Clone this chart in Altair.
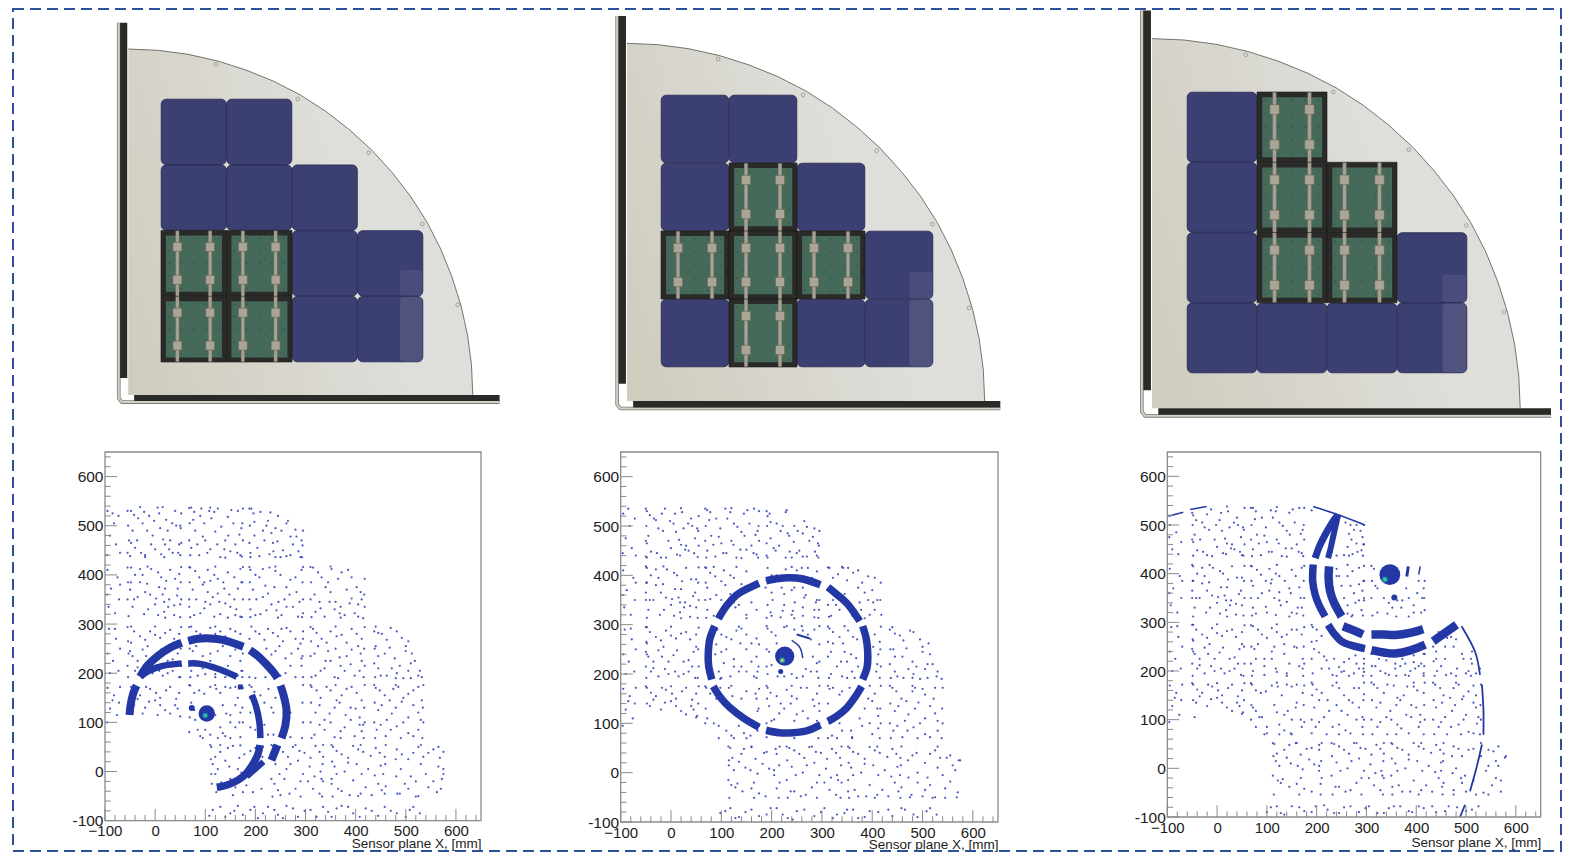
import altair as alt
import pandas as pd

W, H = 1554, 844
OX, OY = 8, 8

# ---------- top row: detector plate layouts (grid units, one tile = 1) ----------
tile_x_px = [(161, 423), (661, 933), (1187, 1467)]
tile_y_px = [(362, 99), (367, 95), (373, 92)]
bar_end = [5.17, 4.99, 5.2]

arc_u = [-0.5, -0.04, 0.41, 0.86, 1.30, 1.72, 2.13, 2.52, 2.88, 3.22, 3.53, 3.81, 4.06, 4.27, 4.44, 4.58, 4.68, 4.74, 4.76]
arc_v = [4.76, 4.74, 4.68, 4.58, 4.44, 4.27, 4.06, 3.81, 3.53, 3.22, 2.88, 2.52, 2.13, 1.72, 1.30, 0.86, 0.41, -0.04, -0.5]
hole_u = [0.84, 2.09, 3.17, 3.99, 4.53]
hole_v = [4.53, 4.00, 3.18, 2.10, 0.87]

blue_cells = [
    [(0, 3), (1, 3), (0, 2), (1, 2), (2, 2), (2, 1), (3, 1), (2, 0), (3, 0)],
    [(0, 3), (1, 3), (0, 2), (2, 2), (3, 1), (0, 0), (2, 0), (3, 0)],
    [(0, 3), (0, 2), (0, 1), (3, 1), (0, 0), (1, 0), (2, 0), (3, 0)],
]
green_cells = [
    [(0, 1), (1, 1), (0, 0), (1, 0)],
    [(1, 2), (0, 1), (1, 1), (2, 1), (1, 0)],
    [(1, 3), (1, 2), (2, 2), (1, 1), (2, 1)],
]
rail_frac = [0.25, 0.75]
pin_frac = [0.12, 0.31, 0.5, 0.69, 0.88]

# ---------- bottom row: sensor plane hit maps (mm) ----------
plot_x_px = [(105, 481), (620.7, 998), (1167.3, 1540.7)]
plot_y_px = [(820.7, 452), (822, 452), (817, 452)]
title_drop = [16, 15, 18]
x_major = [-100, 0, 100, 200, 300, 400, 500, 600]
y_major = [-100, 0, 100, 200, 300, 400, 500, 600]
minor = [-80, -60, -40, -20, 20, 40, 60, 80, 120, 140, 160, 180, 220, 240, 260, 280, 320, 340, 360, 380,
         420, 440, 460, 480, 520, 540, 560, 580, 620, 640]

p1_dots = [
 -95,530,-82,505,-73,520,-90,480,-78,462,-70,445,-96,440,-85,525,
 -95,410,-75,395,-88,372,-72,350,-93,335,-80,322,-70,380,-96,360,
 -92,290,-78,270,-70,250,-95,240,-84,225,-73,205,-90,200,-80,290,
 -95,170,-82,155,-72,140,-90,128,-76,115,-96,100,-85,145,-70,172,
 -48,530,-30,538,-12,520,5,537,22,512,40,530,50,500,-45,490,-25,505,-5,480,10,495,30,470,48,462,-40,455,-20,440,0,452,18,436,35,445,-50,438,25,490,
 72,537,90,520,108,530,125,535,145,518,165,530,172,495,80,490,98,505,120,488,140,470,160,462,72,455,88,440,110,452,130,436,150,448,170,440,100,470,
 192,535,210,528,225,510,245,520,262,505,280,492,292,470,198,480,215,490,235,465,255,450,275,462,190,445,208,438,228,442,250,436,270,440,290,436,240,495,
 -48,415,-25,400,-8,412,12,395,30,410,48,402,-50,370,-30,385,-10,360,8,375,28,350,45,372,-45,335,-22,320,0,340,18,325,38,318,50,340,-35,355,15,360,
 70,415,88,395,105,410,125,392,145,405,170,412,75,370,95,380,115,355,138,372,158,350,172,385,68,335,90,322,110,340,130,320,150,335,170,315,100,345,128,345,
 190,410,208,395,228,415,250,400,270,390,292,410,195,370,215,355,238,375,258,350,282,365,190,330,210,320,232,340,252,318,275,335,295,322,
 315,415,332,395,352,412,372,405,392,395,410,365,318,360,340,375,360,345,382,370,405,340,320,325,338,315,358,330,378,318,398,322,412,350,
 -48,295,-30,275,-10,285,10,272,30,288,48,280,-50,245,-35,225,-15,255,5,238,-40,205,-25,195,-5,200,15,195,35,205,48,192,25,225,45,240,
 72,295,90,280,110,292,130,285,150,290,170,280,75,245,95,235,125,245,150,235,170,225,72,205,100,198,128,205,165,195,85,195,
 192,295,208,280,225,290,245,275,262,292,280,270,295,285,240,245,260,230,285,250,260,200,280,192,292,215,255,265,
 315,290,332,270,350,285,372,278,392,290,412,270,318,240,340,225,360,250,382,235,405,255,320,195,338,210,358,192,378,205,398,195,412,225,
 440,295,452,280,470,292,492,272,505,265,440,255,458,240,478,230,500,245,518,225,445,210,462,195,482,200,505,205,525,195,532,192,
 192,172,210,155,226,168,240,150,190,120,205,100,232,130,225,75,
 -48,172,-30,155,-10,168,10,150,30,172,48,160,-42,135,-20,130,0,145,20,125,40,135,50,112,-25,118,5,115,
 70,175,88,165,110,172,130,160,150,170,165,150,72,140,135,135,150,115,170,120,80,105,130,90,160,90,110,75,90,72,140,72,170,70,
 312,172,330,150,350,165,372,155,392,172,412,145,320,120,338,105,358,130,380,115,400,128,415,95,318,75,338,85,358,70,378,90,398,72,412,82,
 440,170,458,155,475,168,495,150,515,165,532,145,445,125,462,105,480,130,505,110,525,120,442,85,460,72,482,92,505,78,525,85,
 112,50,130,40,155,52,178,35,200,48,115,15,140,22,165,5,120,-5,150,-15,182,-28,212,-35,122,-42,155,-48,195,-42,
 235,52,255,40,275,50,298,38,320,52,335,30,240,15,262,5,285,22,308,10,330,0,238,-25,258,-15,280,-35,305,-20,328,-45,250,-48,
 355,50,372,35,395,52,415,40,440,48,458,30,358,10,378,0,402,15,425,5,450,12,352,-25,372,-40,395,-18,420,-32,445,-25,
 482,45,505,25,525,50,545,38,565,50,575,5,490,5,510,-10,530,15,555,-20,488,-45,505,-35,525,-50,545,-32,562,-42,
 108,-90,130,-72,150,-85,165,-70,190,-78,205,-95,225,-72,245,-88,262,-70,285,-92,310,-78,335,-72,352,-92,372,-70,395,-85,420,-75,445,-90,470,-80,500,-92,515,-72,528,-85,
 -55,530,-54,500,-52,470,-55,445,52,525,51,495,52,465,50,440,-20,436,15,538,
 68,536,69,505,68,470,70,440,175,535,174,505,175,470,173,437,110,537,140,435,
 188,535,189,500,188,465,190,436,295,490,294,460,293,436,240,436,230,527,265,510,
 -55,415,-54,385,-55,350,-53,316,52,416,51,385,52,350,50,314,-15,417,20,313,
 68,416,69,385,68,350,70,314,175,416,174,385,175,350,173,314,120,417,145,313,
 188,416,189,385,188,350,190,314,295,416,294,385,295,350,293,314,240,417,245,313,
 310,416,311,385,310,350,312,314,418,392,417,360,418,335,415,312,350,417,370,313,
 -55,294,-54,265,-53,240,-55,215,-54,192,52,294,51,250,52,215,50,192,0,295,
 68,294,69,250,68,215,70,192,175,240,174,205,174,192,120,295,140,192,120,192,
 188,270,188,192,295,270,294,235,295,192,200,190,220,192,
 310,294,311,265,310,235,312,192,418,294,417,250,418,215,416,192,360,295,365,190,
 437,285,438,250,437,220,439,192,480,190,510,190,528,205,512,240,
 68,176,69,110,68,80,175,170,174,130,175,100,120,176,95,68,150,68,125,68,
 188,176,189,150,190,90,295,176,294,140,295,100,293,68,270,120,270,70,
 310,176,311,140,310,100,312,68,418,176,417,130,418,100,416,68,360,176,370,68,
 437,176,438,140,437,100,439,68,535,176,534,130,535,100,533,68,480,176,490,68,
 110,54,111,25,112,-5,113,-25,215,50,214,30,130,54,170,53,
 232,54,233,25,232,-15,234,-51,335,54,334,15,335,-20,333,-51,280,54,290,-51,
 352,54,353,20,352,-15,354,-51,460,54,459,15,460,-30,458,-45,410,54,405,-50,
 480,25,481,-10,483,-45,575,40,575,-5,570,-35,520,-51,530,54,
 -42,522,-36,470,-22,528,-8,462,-2,510,16,472,28,452,42,500,-48,465,-16,490,8,525,34,505,46,445,-28,445,12,442,-34,515,20,462,
 78,528,95,478,112,515,132,498,152,532,168,482,84,462,104,445,124,462,146,480,164,445,76,512,118,528,138,452,92,535,156,505,
 198,508,218,470,236,448,252,490,270,478,286,448,204,455,222,500,244,468,262,438,282,478,196,525,232,485,
 -40,400,-16,382,6,405,22,388,40,392,-48,385,-20,365,2,352,20,372,38,338,-42,350,-14,330,6,318,26,335,44,358,-30,412,18,345,
 80,408,98,385,118,400,136,385,158,395,165,372,82,350,105,365,125,362,148,360,162,330,78,318,98,332,118,315,140,342,160,318,110,388,
 200,400,220,378,240,408,262,375,280,395,202,350,225,362,246,345,268,360,288,345,200,318,222,328,242,328,262,335,285,315,215,412,
 325,405,345,385,365,392,385,410,402,375,328,345,350,365,370,335,392,352,330,332,348,345,368,322,388,342,405,315,
 -42,285,-20,268,0,278,20,282,38,270,-45,235,-25,248,-5,225,12,248,35,228,50,255,-35,212,-12,210,8,205,25,200,42,215,-48,262,-18,235,
 82,285,100,268,120,280,140,275,160,285,82,255,110,240,135,255,160,248,78,225,110,225,145,215,95,210,120,198,172,205,
 200,285,218,268,235,282,252,290,270,285,290,260,248,255,272,240,292,230,270,215,250,195,232,238,222,250,
 322,282,342,262,362,275,382,262,402,280,325,255,345,245,368,232,392,248,410,240,330,205,350,225,370,215,390,218,408,205,
 445,282,462,268,482,285,500,255,445,235,468,252,488,215,510,220,450,195,472,210,495,190,
 198,162,218,140,236,120,200,85,218,95,236,75,
 -40,162,-18,172,2,160,22,165,42,148,-35,148,-12,142,10,135,30,118,45,128,
 78,160,98,158,122,168,140,172,160,172,78,125,142,118,160,135,168,100,85,85,120,115,150,100,135,78,100,85,
 322,165,342,172,362,145,382,168,402,160,328,135,348,118,368,140,390,130,408,110,328,95,350,100,370,82,390,105,408,95,
 448,165,468,145,485,172,505,158,525,172,452,135,472,118,492,142,515,135,530,105,450,95,470,85,495,100,515,72,
 120,30,145,48,168,28,190,42,210,38,125,5,148,10,172,-2,195,8,132,-22,160,-32,175,-42,128,-30,205,5,
 245,45,265,30,288,42,310,28,328,40,248,-5,270,15,295,-5,318,-10,245,-38,268,-45,290,-20,315,-35,332,-15,
 362,42,385,28,405,45,430,32,448,38,362,-5,385,18,412,-5,438,-8,455,-5,365,-35,388,-48,410,-45,432,-48,452,-38,
 492,35,515,38,535,30,555,45,568,28,498,-25,520,-20,540,-5,565,10,572,-15,
 115,-78,140,-92,158,-80,175,-88,198,-72,215,-85,238,-78,255,-95,275,-75,298,-80,322,-92,345,-82,362,-75,385,-72,408,-92,432,-80,458,-72,482,-85,508,-78,
]
p2_dots = [
 -95,525,-82,500,-72,515,-90,475,-78,455,-70,440,-96,445,-85,535,
 -95,410,-75,395,-88,370,-72,350,-93,335,-80,320,-70,385,-96,360,
 -92,290,-78,270,-70,250,-95,240,-84,225,-73,205,-90,200,-80,292,
 -95,170,-82,155,-72,140,-90,128,-76,110,-96,95,-85,145,-70,172,
 -48,530,-30,512,-12,535,5,505,22,528,40,515,52,495,-45,480,-25,495,-5,470,10,488,30,460,48,475,-40,448,-20,436,0,455,18,440,35,450,-50,438,25,495,
 72,532,90,515,108,535,125,505,145,525,165,535,172,490,80,480,98,495,120,470,140,488,160,460,72,450,88,438,110,445,130,436,150,452,170,442,100,465,
 192,520,210,505,228,528,245,500,262,485,285,495,292,465,198,475,215,460,235,480,255,450,275,470,190,440,208,450,228,436,250,445,270,438,290,440,
 -48,415,-25,395,-8,412,12,400,30,415,50,392,-50,365,-30,380,-10,355,8,372,28,345,48,365,-45,330,-22,320,0,340,18,325,38,316,50,335,-35,350,15,355,
 70,415,88,398,105,410,125,395,150,408,72,375,90,360,108,380,125,345,72,330,100,320,128,335,150,320,170,330,115,350,145,365,
 192,415,210,400,228,412,250,410,272,415,290,408,200,365,225,340,245,375,265,355,285,330,198,325,218,315,240,320,262,318,290,350,
 315,415,332,402,352,415,372,410,392,398,350,390,400,370,410,350,322,350,335,330,375,345,395,320,318,318,405,330,
 -48,295,-30,275,-10,288,10,272,30,285,50,280,-50,245,-35,225,-15,255,5,238,25,225,45,245,-40,205,-25,195,-5,200,15,195,35,205,48,192,
 92,290,110,275,130,288,150,280,170,272,100,245,125,230,150,250,170,235,95,205,118,195,140,215,165,195,
 192,292,208,278,285,290,272,280,195,245,282,235,192,200,212,195,240,200,262,195,290,205,210,262,
 315,292,335,275,352,288,370,270,318,245,338,225,358,240,372,215,318,200,340,195,365,192,405,280,412,240,408,205,
 440,295,455,278,475,288,495,270,512,262,442,250,460,235,480,225,500,245,520,220,445,205,462,192,482,200,505,210,528,195,538,190,
 192,172,210,155,230,168,250,150,270,172,290,160,195,135,215,120,238,140,262,125,285,135,
 -48,172,-30,155,-10,168,10,150,30,172,50,160,-42,135,-20,128,0,145,20,125,40,135,50,112,
 70,172,90,150,115,172,140,150,168,160,72,110,95,95,120,75,145,80,170,150,
 315,170,335,158,355,172,405,160,385,130,410,130,320,75,340,85,360,72,380,95,400,78,
 440,172,458,150,480,165,500,170,522,150,445,125,465,105,485,130,505,110,525,120,442,85,460,72,482,92,505,78,530,85,
 118,50,140,38,160,52,185,40,208,48,115,15,135,22,158,5,182,18,205,-5,120,-25,142,-38,165,-20,188,-48,210,-32,
 235,50,255,38,275,52,298,40,320,48,336,30,240,12,262,0,285,20,308,8,330,-5,238,-38,258,-48,280,-30,305,-20,328,-45,
 355,50,372,38,395,52,415,40,440,48,456,30,358,10,378,0,402,15,425,5,450,12,352,-38,372,-48,395,-25,420,-35,445,-20,
 480,35,505,20,525,45,548,30,572,25,490,0,510,-10,530,10,555,-18,478,-45,505,-35,525,-50,545,-32,568,-50,
 98,-82,118,-72,135,-90,160,-75,190,-85,210,-72,232,-92,250,-78,285,-88,305,-72,330,-85,350,-75,372,-92,395,-78,440,-88,465,-75,490,-90,515,-72,528,-85,
 -50,535,-49,500,-50,470,-48,436,55,520,54,490,55,460,53,437,-10,436,20,536,
 68,535,69,500,68,470,70,436,175,530,174,500,175,470,173,436,120,536,140,435,
 190,530,191,500,190,465,192,436,295,490,294,460,293,436,240,436,230,532,265,510,
 -50,418,-49,385,-50,350,-48,314,55,416,54,385,55,350,53,314,-15,418,20,313,
 68,416,69,385,68,350,70,314,130,417,150,313,100,313,85,417,
 190,390,188,375,192,340,190,314,295,350,294,330,293,314,240,417,245,313,260,415,
 312,416,312,370,312,340,314,316,417,385,416,350,418,320,340,417,385,313,365,313,
 -50,295,-49,265,-48,240,-50,215,-49,192,55,294,54,250,55,215,53,192,0,296,
 90,260,100,192,135,296,170,192,175,260,174,215,88,240,135,205,
 190,297,190,250,190,215,295,297,295,260,295,225,293,192,230,297,260,297,
 312,296,312,265,312,235,314,192,417,296,416,250,417,215,415,192,345,297,350,192,
 435,290,436,250,435,220,437,192,480,192,510,192,530,205,515,240,
 -50,175,-48,140,55,175,54,140,52,115,0,175,
 68,175,69,130,68,100,175,170,174,130,175,95,120,176,95,70,150,70,125,70,
 190,176,191,150,190,100,190,72,295,176,294,140,295,100,293,70,240,176,245,70,
 312,176,312,140,315,100,312,70,417,176,416,130,417,100,415,70,360,70,395,176,
 435,176,436,140,435,100,437,70,540,172,539,130,540,100,538,70,480,176,490,70,
 114,53,115,25,114,-15,116,-51,216,53,215,15,216,-20,214,-51,160,53,165,-51,
 230,53,231,25,230,-15,232,-51,339,53,338,15,339,-20,337,-51,280,53,290,-51,
 352,53,353,20,352,-15,354,-51,458,53,457,15,458,-30,456,-51,410,53,405,-51,
 471,25,472,-10,475,-50,575,25,560,15,545,-51,520,-51,530,53,
 -42,522,-18,525,-2,510,16,472,28,452,42,500,-48,465,-16,490,8,525,34,505,46,445,-28,445,12,442,-34,515,20,462,
 78,528,95,478,112,515,132,498,152,532,168,482,84,462,104,445,124,462,146,480,164,445,76,512,118,528,138,452,156,505,
 198,508,218,490,236,448,252,490,270,498,286,448,204,455,222,500,244,468,262,438,282,478,196,525,232,485,
 -40,400,-16,382,6,405,22,388,40,392,-48,385,-20,365,2,352,20,372,38,338,-42,350,-14,330,6,318,26,335,44,358,-30,412,18,345,
 78,405,100,388,118,400,140,382,78,352,100,350,118,362,135,340,160,345,110,335,85,318,
 200,400,220,375,240,370,262,375,280,395,202,350,225,362,246,345,268,360,288,345,200,318,222,328,242,328,262,335,285,315,
 322,395,342,415,362,405,380,385,405,395,372,375,385,365,402,345,392,350,345,362,328,340,360,318,378,330,
 -42,285,-20,268,0,278,20,282,38,270,-45,235,-25,248,-5,225,12,248,35,228,50,255,-35,212,-12,210,8,205,25,200,42,215,-48,262,-18,235,
 100,280,120,270,140,292,160,262,110,250,138,262,160,225,105,222,125,215,150,205,172,205,98,190,
 200,285,225,295,245,290,262,288,278,270,200,218,290,222,278,205,225,195,250,192,268,210,
 322,285,342,262,362,275,322,262,345,245,368,232,330,215,350,225,360,205,402,255,415,265,410,220,
 445,282,462,268,482,285,500,255,445,235,468,252,488,215,510,220,450,195,472,210,495,190,
 198,162,218,140,240,155,258,172,282,148,295,125,205,108,225,130,250,118,272,110,200,105,290,105,245,105,
 -40,162,-18,172,2,160,22,165,42,148,-35,148,-12,142,10,135,30,118,45,128,
 78,160,98,172,122,155,150,165,172,125,85,100,110,85,135,95,158,75,172,85,
 322,172,340,165,400,145,392,150,412,115,335,100,358,85,375,110,395,100,412,90,330,70,
 448,165,468,145,485,172,505,158,525,172,452,135,472,118,492,142,515,135,530,105,450,95,470,85,495,100,515,72,
 122,30,145,48,168,28,190,42,210,38,125,5,148,10,172,-2,195,8,132,-22,160,-32,175,-42,128,-30,205,5,
 245,45,265,30,288,42,310,28,328,40,248,-5,270,15,295,-5,318,-10,245,-38,268,-45,290,-20,315,-35,332,-15,
 362,42,385,28,405,45,430,32,448,38,362,-5,385,18,412,-5,438,-8,455,-5,365,-35,388,-48,410,-45,432,-48,452,-38,
 488,40,515,38,535,30,555,35,490,-20,515,-25,540,-5,565,5,570,-40,500,-48,
 108,-78,128,-92,148,-80,175,-88,198,-72,222,-85,242,-95,265,-75,298,-80,322,-92,345,-82,362,-75,385,-90,412,-80,432,-75,458,-72,482,-85,508,-78,
]
p3_dots = [
 -95,500,-82,485,-72,465,-90,450,-78,440,-96,475,
 -95,410,-75,395,-88,370,-72,350,-93,335,-80,320,-70,385,-96,360,
 -92,290,-78,270,-70,250,-95,240,-84,225,-73,205,-90,200,-80,292,
 -95,170,-82,155,-72,140,-90,128,-76,110,-96,95,-85,145,-70,172,
 -48,520,-30,505,-12,532,5,510,22,528,40,515,52,495,-45,480,-25,495,-5,470,10,488,30,460,48,475,-40,448,-20,438,0,455,18,440,35,450,50,438,25,495,
 72,535,90,515,108,530,125,505,145,525,165,535,172,490,80,480,98,495,120,470,140,488,160,460,72,450,88,438,110,445,130,436,150,452,170,442,100,465,
 258,505,275,490,292,475,262,455,282,445,295,460,255,438,270,470,
 -48,415,-25,395,-8,412,12,400,30,415,50,392,-50,365,-30,380,-10,355,8,372,28,345,48,365,-45,330,-22,320,0,340,18,325,38,316,50,335,-35,350,15,355,
 70,415,88,398,105,410,125,395,150,408,170,412,72,375,90,360,108,380,125,345,145,370,168,350,72,330,100,320,128,335,150,320,170,330,115,350,
 240,410,262,395,285,412,250,375,275,360,295,385,262,335,290,325,272,315,295,350,
 315,410,318,375,335,350,352,330,372,345,395,320,412,350,405,385,380,370,322,320,
 -48,295,-30,275,-10,288,10,272,30,285,50,280,-50,245,-35,225,-15,255,5,238,25,225,45,245,-40,205,-25,195,-5,200,15,195,35,205,48,192,
 72,292,90,275,110,288,130,270,150,285,170,275,75,245,95,225,115,250,135,235,155,250,172,225,72,200,95,192,118,205,140,195,165,210,
 192,290,210,272,195,245,215,230,235,225,255,218,278,232,295,215,192,195,210,205,232,192,255,200,275,195,295,198,
 345,230,372,225,395,218,415,235,318,210,338,195,358,205,378,192,398,205,415,195,325,225,
 440,240,458,225,475,250,492,235,510,225,442,200,460,192,482,205,500,195,520,195,470,270,
 -48,172,-30,155,-10,168,10,150,30,172,50,160,-42,135,-20,128,0,145,20,125,40,135,50,112,-45,105,
 70,172,88,155,110,170,130,150,150,168,172,155,72,125,90,105,115,130,135,110,158,125,78,85,100,72,125,90,148,72,170,85,
 192,172,210,155,232,170,255,150,275,165,295,152,195,125,215,105,240,130,262,110,285,125,198,85,220,70,245,90,268,72,292,85,
 315,172,335,155,355,170,375,150,395,168,415,155,320,125,340,105,360,130,380,110,400,125,322,85,342,70,362,90,385,72,405,85,
 438,172,455,150,475,165,495,148,515,170,440,125,458,105,478,130,500,110,520,125,445,85,462,70,485,90,505,75,522,92,
 115,50,135,38,158,52,180,40,205,48,118,15,140,22,162,5,185,18,205,-5,122,-25,145,-38,168,-20,190,-48,208,-32,
 235,50,255,38,275,52,298,40,320,48,335,30,240,12,262,0,285,20,308,8,330,-5,238,-38,258,-48,280,-30,305,-20,328,-45,
 352,50,372,38,395,52,415,40,440,48,455,30,358,10,378,0,402,15,425,5,450,12,352,-38,372,-48,395,-25,420,-35,445,-20,
 475,45,492,25,515,40,545,38,565,45,578,22,480,0,498,-15,545,5,560,-20,475,-45,492,-30,535,-50,552,-35,570,-48,
 100,-90,120,-78,135,-95,165,-80,190,-90,215,-76,235,-92,255,-80,285,-90,305,-78,335,-92,355,-78,385,-88,405,-78,440,-90,465,-78,500,-88,525,-78,
 -50,525,-49,500,-50,470,-48,437,55,535,54,490,55,460,53,437,-10,436,20,538,
 68,535,69,500,68,470,70,436,175,535,174,500,175,470,173,436,120,537,140,435,
 190,530,280,500,295,500,294,460,293,437,240,437,265,437,
 -50,418,-49,385,-50,350,-48,312,55,416,54,385,55,350,53,314,-15,418,20,312,
 68,416,69,385,68,350,70,314,175,416,174,385,175,350,173,314,120,418,145,312,
 295,416,294,385,295,345,293,314,240,395,262,418,270,312,
 310,416,311,385,310,350,312,314,417,385,416,350,417,325,360,312,385,312,
 -50,295,-49,265,-48,240,-50,215,-49,190,55,294,54,250,55,215,53,190,0,296,
 68,294,69,250,68,215,70,190,175,290,174,250,175,215,173,190,120,296,140,190,
 190,295,190,260,190,225,295,225,294,205,293,190,240,190,265,190,
 310,235,311,210,310,190,417,235,416,210,415,190,360,190,385,190,
 434,250,435,220,437,190,480,190,510,190,528,205,512,240,
 -50,175,-48,140,55,175,54,140,52,115,0,175,
 68,175,69,130,68,100,175,170,174,130,175,95,120,176,95,70,150,70,125,70,
 190,176,191,150,190,100,190,72,295,176,294,140,295,100,293,70,240,176,245,70,
 310,176,311,140,310,100,312,70,417,176,416,130,417,100,415,70,360,70,395,176,
 434,176,435,140,434,100,436,70,530,172,529,130,530,100,528,70,480,176,490,70,
 112,52,113,25,112,-15,114,-54,210,52,209,15,210,-20,208,-54,160,52,165,-54,
 230,52,231,25,230,-15,232,-54,335,52,334,15,335,-20,333,-54,280,52,290,-54,
 350,52,351,20,350,-15,352,-54,455,52,454,15,455,-30,453,-54,410,52,405,-54,
 472,25,473,-10,475,-54,580,25,560,15,545,-54,520,-54,530,52,
 -42,510,-20,522,-2,500,16,472,28,452,42,500,-48,465,-16,490,8,525,34,505,46,445,-28,445,12,442,-34,470,20,462,
 78,528,95,478,112,515,132,498,152,532,168,482,84,462,104,445,124,462,146,480,164,445,76,512,118,528,138,452,156,505,
 268,500,288,488,265,482,280,462,290,448,272,440,
 -40,400,-16,382,6,405,22,388,40,392,-48,385,-20,365,2,352,20,372,38,338,-42,350,-14,330,6,318,26,335,44,358,-30,412,18,345,
 80,408,98,385,118,400,136,385,158,395,165,372,82,350,105,365,125,362,148,360,162,330,78,318,98,332,118,315,140,342,160,318,110,388,
 245,395,272,405,285,378,292,365,278,340,255,350,268,375,262,318,285,345,
 322,370,345,340,362,345,385,350,402,360,410,320,342,318,370,330,395,335,415,370,
 -42,285,-20,268,0,278,20,282,38,270,-45,235,-25,248,-5,225,12,248,35,228,50,255,-35,212,-12,210,8,205,25,200,42,215,-48,262,-18,235,
 82,285,100,268,120,280,140,275,160,285,82,255,110,240,135,255,160,248,78,225,110,225,145,215,95,210,120,198,172,205,
 200,285,200,262,205,238,225,205,245,208,265,225,285,205,220,222,250,198,280,215,
 340,222,358,215,378,215,395,232,410,215,328,200,345,192,368,210,388,200,405,210,
 445,280,462,268,440,225,458,250,480,265,495,225,505,200,450,210,470,195,512,215,
 -40,162,-18,172,2,160,22,165,42,148,-35,148,-12,142,10,135,30,118,45,128,
 78,160,98,158,122,168,140,172,160,172,78,118,142,118,160,135,168,100,85,105,120,115,150,100,135,78,100,85,
 200,162,222,140,245,165,265,140,285,165,205,140,225,118,250,118,272,135,292,105,205,95,232,85,258,78,280,100,
 322,165,342,172,362,145,382,168,402,160,328,135,348,118,368,140,390,130,408,110,328,95,350,100,370,82,390,105,408,95,
 448,165,468,145,485,172,505,158,520,150,452,135,472,118,492,142,515,135,525,105,450,95,470,85,495,100,515,72,
 120,30,145,48,168,28,190,42,205,38,125,5,148,10,172,-2,195,8,132,-22,160,-32,175,-42,128,-30,205,5,
 245,45,265,30,288,42,310,28,328,40,248,-5,270,15,295,-5,318,-10,245,-38,268,-45,290,-20,315,-35,332,-15,
 362,42,385,28,405,45,430,32,448,38,362,-5,385,18,412,-5,438,-8,450,-5,365,-35,388,-48,410,-45,432,-48,452,-38,
 485,40,505,38,530,25,555,35,490,-20,515,-25,540,-5,565,5,570,-25,500,-48,
 108,-80,128,-92,150,-78,175,-88,198,-78,222,-85,245,-92,268,-78,298,-82,322,-92,345,-82,368,-78,392,-90,415,-82,432,-78,458,-88,482,-80,512,-85,
]

# each ring segment: (stroke width, [x, y, x, y, ...])
p1_rings = [
 (8, [-51,115, -49,135, -44,158, -37,175]), (8, [-30,193, -15,216, 5,235, 28,251, 53,262]),
 (8, [66,266, 85,270, 105,271, 135,268, 176,254]), (8, [189,247, 205,235, 222,218, 236,202, 244,190]),
 (8, [250,175, 257,152, 262,125, 260,95, 252,68]), (8, [244,54, 232,23]),
 (6.5, [-30,193, -10,206, 15,215, 53,220]), (6.5, [66,220, 90,219, 125,209, 163,193]),
 (6.5, [193,156, 202,130, 208,100, 210,68]),
 (7.5, [209,54, 205,35, 195,15, 178,-8, 150,-25, 123,-32]), (6, [216,20, 183,-10]), (5, [165,172, 175,172]),
]
p2_rings = [
 (7.5, [189,389, 210,393, 233,395, 260,393, 297,381]), (7.5, [312,376, 330,361, 349,344, 365,323, 375,307]),
 (7.5, [381,297, 388,272, 391,245, 390,215, 381,189]), (7.5, [379,175, 365,152, 349,131, 330,115, 312,104]),
 (7.5, [297,97, 270,85, 243,81, 215,81, 189,86]), (7.5, [175,92, 145,110, 117,132, 98,153, 84,175]),
 (7.5, [81,189, 75,215, 74,240, 77,270, 87,297]), (7.5, [94,312, 110,338, 130,360, 152,373, 175,384]),
 (1.5, [240,268, 256,254, 262,232]), (2, [250,280, 276,272]),
]
p3_rings = [
 (7, [197,432, 205,455, 217,480, 230,503, 243,521]), (6, [223,432, 228,452, 234,480, 243,521]),
 (7.5, [193,419, 192,385, 197,357, 205,335, 217,312]), (8.5, [225,415, 224,390, 227,364, 235,340, 250,312]),
 (7.5, [223,295, 235,277, 250,261, 272,252, 297,246]), (8.5, [253,292, 273,284, 293,275]),
 (8.5, [310,243, 335,238, 358,236, 390,243, 418,254]), (8.5, [310,275, 335,275, 358,274, 390,279, 414,286]),
 (8.5, [434,261, 481,295]),
 (1.8, [491,292, 518,240, 528,192]), (1.8, [532,172, 535,120, 535,69]), (1.8, [532,49, 521,1, 508,-47]), (1.8, [498,-75, 488,-100]),
 (1.5, [-98,518, -68,526]), (1.5, [-54,532, -21,538]), (1.5, [193,538, 243,521, 297,500]),
 (3, [384,415, 381,394]), (1.5, [408,415, 405,398]),
]
# spot layers: x, y, marker area, colour
p1_spots = [(103,118,270,"#2438a5"), (73,129,36,"#2438a5"), (100,114,28,"#1a90b0"), (100,114,7,"#55d070")]
p2_spots = [(226,236,370,"#2438a5"), (218,205,25,"#2438a5"), (221,228,34,"#1a90b0"), (221,228,9,"#d8d840")]
p3_spots = [(347,398,430,"#2438a5"), (356,351,36,"#2438a5"), (337,388,34,"#1a90b0"), (337,388,8,"#55d070")]

all_dots = [p1_dots, p2_dots, p3_dots]
all_rings = [p1_rings, p2_rings, p3_rings]
all_spots = [p1_spots, p2_spots, p3_spots]
FONT = "Liberation Sans"


def px_range(pair, origin):
    return [pair[0] - origin, pair[1] - origin]


def rects(frame, sx, sy, **mark):
    return alt.Chart(pd.DataFrame(frame)).mark_rect(**mark).encode(
        x=alt.X("a:Q", scale=sx, axis=None), x2="a2:Q",
        y=alt.Y("b:Q", scale=sy, axis=None), y2="b2:Q")


def diagram(i):
    sx = alt.Scale(domain=[0, 4], range=px_range(tile_x_px[i], OX), nice=False, zero=False)
    sy = alt.Scale(domain=[0, 4], range=px_range(tile_y_px[i], OY), nice=False, zero=False)
    grad = alt.Gradient(gradient="linear", x1=0, y1=1, x2=0.75, y2=0.75, stops=[
        alt.GradientStop(color="#cfcbbd", offset=0), alt.GradientStop(color="#dededa", offset=1)])
    arc = pd.DataFrame({"a": arc_u, "b": arc_v, "b2": [-0.5] * len(arc_u)})
    plate = alt.Chart(arc).mark_area(color=grad).encode(
        x=alt.X("a:Q", scale=sx, axis=None), y=alt.Y("b:Q", scale=sy, axis=None), y2="b2:Q")
    edge = alt.Chart(arc).mark_line(color="#66665f", strokeWidth=0.9).encode(
        x=alt.X("a:Q", scale=sx, axis=None), y=alt.Y("b:Q", scale=sy, axis=None), order="a:Q")
    strip_df = pd.DataFrame({"a": [-0.645, -0.645, -0.6, bar_end[i]], "b": [5.16, -0.55, -0.61, -0.61], "o": [0, 1, 2, 3]})
    strip_o = alt.Chart(strip_df).mark_line(color="#7d7c74", strokeWidth=3.6, strokeJoin="round").encode(
        x=alt.X("a:Q", scale=sx, axis=None), y=alt.Y("b:Q", scale=sy, axis=None), order="o:Q")
    strip_i = alt.Chart(strip_df).mark_line(color="#d2d1c8", strokeWidth=2, strokeJoin="round").encode(
        x=alt.X("a:Q", scale=sx, axis=None), y=alt.Y("b:Q", scale=sy, axis=None), order="o:Q")
    bars = rects([
        {"a": -0.625, "a2": -0.515, "b": 5.16, "b2": -0.245},
        {"a": -0.41, "a2": bar_end[i], "b": -0.5, "b2": -0.595},
    ], sx, sy, color="#2a2a28")
    blue = rects([{"a": c + 0.003, "a2": c + 0.997, "b": r + 0.003, "b2": r + 0.997} for c, r in blue_cells[i]],
                 sx, sy, color="#3b3f72", stroke="#23264e", strokeWidth=0.8, cornerRadius=5)
    glow = []
    if (3, 0) in blue_cells[i]:
        glow.append(rects([{"a": 3.65, "a2": 3.99, "b": 0.012, "b2": 0.99}], sx, sy, color="#50537e", cornerRadius=3))
    if (3, 1) in blue_cells[i]:
        glow.append(rects([{"a": 3.65, "a2": 3.99, "b": 1.01, "b2": 1.4}], sx, sy, color="#4a4d7c", cornerRadius=2))
    frames = rects([{"a": c, "a2": c + 1, "b": r, "b2": r + 1} for c, r in green_cells[i]], sx, sy,
                   color="#2a2a28", stroke="#191917", strokeWidth=0.6)
    inner = rects([{"a": c + 0.075, "a2": c + 0.93, "b": r + 0.07, "b2": r + 0.925} for c, r in green_cells[i]],
                  sx, sy, color="#466a59")
    pins = alt.Chart(pd.DataFrame([{"a": c + f, "b": r + g} for c, r in green_cells[i] for f in pin_frac for g in pin_frac])
                     ).mark_circle(size=1.5, color="#1d2a24", opacity=0.6).encode(
        x=alt.X("a:Q", scale=sx, axis=None), y=alt.Y("b:Q", scale=sy, axis=None))
    rails = rects([{"a": c + f - 0.026, "a2": c + f + 0.026, "b": r + 0.005, "b2": r + 0.995}
                   for c, r in green_cells[i] for f in rail_frac], sx, sy, color="#a7a293", stroke="#6e6b60", strokeWidth=0.3)
    clamps = rects([{"a": c + f - 0.068, "a2": c + f + 0.068, "b": r + g - 0.068, "b2": r + g + 0.068}
                    for c, r in green_cells[i] for f in rail_frac for g in rail_frac],
                   sx, sy, color="#aaa594", stroke="#5f5d53", strokeWidth=0.5)
    holes = alt.Chart(pd.DataFrame({"a": hole_u, "b": hole_v})).mark_point(size=14, color="#77776f", strokeWidth=0.8).encode(
        x=alt.X("a:Q", scale=sx, axis=None), y=alt.Y("b:Q", scale=sy, axis=None))
    return [plate, edge, strip_o, strip_i, bars, blue, *glow, frames, inner, pins, rails, clamps, holes]


def hitmap(i):
    sx = alt.Scale(domain=[-100, 650], range=px_range(plot_x_px[i], OX), nice=False, zero=False)
    sy = alt.Scale(domain=[-100, 650], range=px_range(plot_y_px[i], OY), nice=False, zero=False)
    left = plot_x_px[i][0] - OX
    right = plot_x_px[i][1] - OX
    bottom = plot_y_px[i][0] - OY
    xaxis = alt.Axis(orient="bottom", offset=bottom - H, values=x_major, ticks=False, domain=False, grid=False,
                     labelPadding=3, labelFont=FONT, labelFontSize=15, labelColor="#1c1c1c", labelOverlap=False,
                     labelFlush=False, title="Sensor plane X, [mm]", titleFont=FONT, titleFontSize=13.5,
                     titleFontWeight="normal", titleColor="#1c1c1c", titleAlign="right", titleAnchor="end",
                     titleBaseline="top", titleX=right, titleY=title_drop[i])
    yaxis = alt.Axis(orient="left", offset=-left, values=y_major, ticks=False, domain=False, grid=False,
                     labelPadding=2, labelFont=FONT, labelFontSize=15.5, labelColor="#1c1c1c", labelOverlap=False,
                     labelFlush=False, title=None, labelExpr="'' + datum.value")
    flat = all_dots[i]
    dots = pd.DataFrame({"x": flat[0::2], "y": flat[1::2]})
    base = alt.Chart(dots).mark_circle(size=5, color="#2a3db0", opacity=0.85).encode(
        x=alt.X("x:Q", scale=sx, axis=xaxis), y=alt.Y("y:Q", scale=sy, axis=yaxis))
    layers = [base]
    for k, (w, seg) in enumerate(all_rings[i]):
        d = pd.DataFrame({"x": seg[0::2], "y": seg[1::2], "o": list(range(len(seg) // 2))})
        layers.append(alt.Chart(d).mark_line(color="#2438a5", strokeWidth=w, strokeCap="butt", interpolate="cardinal").encode(
            x=alt.X("x:Q", scale=sx, axis=None), y=alt.Y("y:Q", scale=sy, axis=None), order="o:Q"))
    for (sxv, syv, area, colour) in all_spots[i]:
        d = pd.DataFrame({"x": [sxv], "y": [syv]})
        layers.append(alt.Chart(d).mark_circle(size=area, color=colour, opacity=1).encode(
            x=alt.X("x:Q", scale=sx, axis=None), y=alt.Y("y:Q", scale=sy, axis=None)))
    tick_rows = ([{"x": t, "y": -100, "y2": -76} for t in x_major] +
                 [{"x": t, "y": -100, "y2": -88.5} for t in minor])
    xt = alt.Chart(pd.DataFrame(tick_rows)).mark_rule(color="#8a8a8a", strokeWidth=1).encode(
        x=alt.X("x:Q", scale=sx, axis=None), y=alt.Y("y:Q", scale=sy, axis=None), y2="y2:Q")
    ty_rows = ([{"x": -100, "x2": -76, "y": t} for t in y_major] + [{"x": -100, "x2": -88.5, "y": t} for t in minor])
    yt = alt.Chart(pd.DataFrame(ty_rows)).mark_rule(color="#8a8a8a", strokeWidth=1).encode(
        x=alt.X("x:Q", scale=sx, axis=None), x2="x2:Q", y=alt.Y("y:Q", scale=sy, axis=None))
    box = alt.Chart(pd.DataFrame({"x": [-100], "x2": [650], "y": [-100], "y2": [650]})).mark_rect(
        fillOpacity=0, stroke="#8a8a8a", strokeWidth=1.3).encode(
        x=alt.X("x:Q", scale=sx, axis=None), x2="x2:Q", y=alt.Y("y:Q", scale=sy, axis=None), y2="y2:Q")
    return layers + [xt, yt, box]


frame_sx = alt.Scale(domain=[0, 1], range=[5, 1553], nice=False, zero=False)
frame_sy = alt.Scale(domain=[0, 1], range=[843, 1], nice=False, zero=False)
frame = alt.Chart(pd.DataFrame({"x": [0], "x2": [1], "y": [0], "y2": [1]})).mark_rect(
    fillOpacity=0, stroke="#2e4f9a", strokeWidth=2, strokeDash=[11, 6]).encode(
    x=alt.X("x:Q", scale=frame_sx, axis=None), x2="x2:Q",
    y=alt.Y("y:Q", scale=frame_sy, axis=None), y2="y2:Q")

chart = alt.layer(frame, *diagram(0), *diagram(1), *diagram(2), *hitmap(0), *hitmap(1), *hitmap(2)).resolve_scale(
    x="independent", y="independent"
).properties(width=W, height=H, padding=0, autosize="none", background="white"
).configure_view(stroke=None)

chart.save("out.html", embed_options={"renderer": "svg", "actions": False})
